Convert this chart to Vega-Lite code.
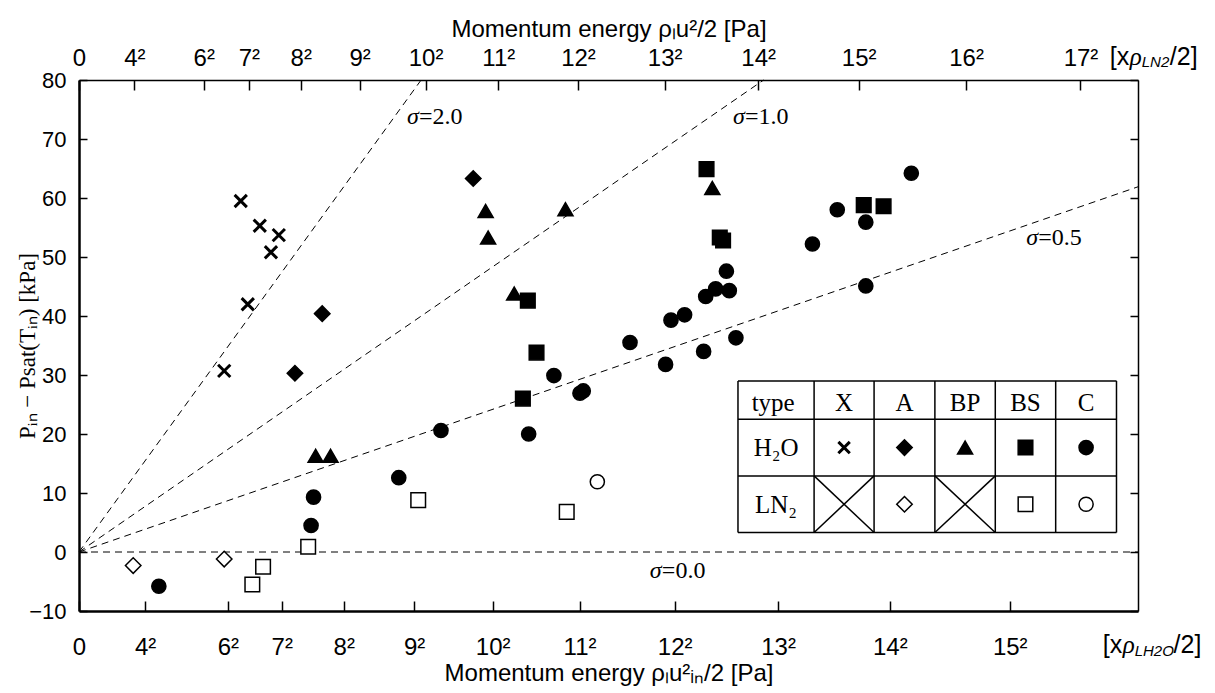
{
  "$schema": "https://vega.github.io/schema/vega-lite/v6.json",
  "width": 1059,
  "height": 531,
  "autosize": {"type": "none"},
  "padding": {"left": 79, "top": 80, "right": 77, "bottom": 82},
  "background": "white",
  "config": {
    "view": {"stroke": null},
    "axis": {
      "grid": false,
      "labelColor": "black",
      "titleColor": "black",
      "tickColor": "black",
      "domainColor": "black",
      "labelFont": "Liberation Sans",
      "titleFont": "Liberation Sans",
      "titleFontWeight": "normal",
      "labelFlush": false,
      "labelOverlap": false
    }
  },
  "datasets": {
    "lines": [
      {"s": "2.0", "x": 0, "y": 0}, {"s": "2.0", "x": 82.7, "y": 80},
      {"s": "1.0", "x": 0, "y": 0}, {"s": "1.0", "x": 165.5, "y": 80},
      {"s": "0.5", "x": 0, "y": 0}, {"s": "0.5", "x": 256, "y": 61.9},
      {"s": "0.0", "x": 0, "y": 0}, {"s": "0.0", "x": 256, "y": 0}
    ],
    "slabels": [
      {"v": "=2.0", "x": 79.3, "y": 73.7},
      {"v": "=1.0", "x": 158.1, "y": 73.7},
      {"v": "=0.5", "x": 229.0, "y": 53.2},
      {"v": "=0.0", "x": 138.0, "y": -3.3}
    ],
    "pts": [
      {"type": "X", "fluid": "H2O", "x": 39.1, "y": 59.5},
      {"type": "X", "fluid": "H2O", "x": 43.7, "y": 55.3},
      {"type": "X", "fluid": "H2O", "x": 48.3, "y": 53.7},
      {"type": "X", "fluid": "H2O", "x": 46.4, "y": 50.8},
      {"type": "X", "fluid": "H2O", "x": 40.8, "y": 42.0},
      {"type": "X", "fluid": "H2O", "x": 35.1, "y": 30.7},
      {"type": "A", "fluid": "H2O", "x": 58.8, "y": 40.4},
      {"type": "A", "fluid": "H2O", "x": 52.2, "y": 30.3},
      {"type": "A", "fluid": "H2O", "x": 95.3, "y": 63.3},
      {"type": "BP", "fluid": "H2O", "x": 57.2, "y": 16.3},
      {"type": "BP", "fluid": "H2O", "x": 60.8, "y": 16.3},
      {"type": "BP", "fluid": "H2O", "x": 98.3, "y": 57.8},
      {"type": "BP", "fluid": "H2O", "x": 98.9, "y": 53.3},
      {"type": "BP", "fluid": "H2O", "x": 105.2, "y": 43.8},
      {"type": "BP", "fluid": "H2O", "x": 117.6, "y": 58.1},
      {"type": "BP", "fluid": "H2O", "x": 153.1, "y": 61.7},
      {"type": "BS", "fluid": "H2O", "x": 151.7, "y": 64.9},
      {"type": "BS", "fluid": "H2O", "x": 154.9, "y": 53.3},
      {"type": "BS", "fluid": "H2O", "x": 155.7, "y": 52.8},
      {"type": "BS", "fluid": "H2O", "x": 108.5, "y": 42.6},
      {"type": "BS", "fluid": "H2O", "x": 110.6, "y": 33.8},
      {"type": "BS", "fluid": "H2O", "x": 107.3, "y": 26.0},
      {"type": "BS", "fluid": "H2O", "x": 189.7, "y": 58.8},
      {"type": "BS", "fluid": "H2O", "x": 194.5, "y": 58.6},
      {"type": "C", "fluid": "H2O", "x": 56.7, "y": 9.3},
      {"type": "C", "fluid": "H2O", "x": 56.1, "y": 4.5},
      {"type": "C", "fluid": "H2O", "x": 77.3, "y": 12.6},
      {"type": "C", "fluid": "H2O", "x": 19.3, "y": -5.8},
      {"type": "C", "fluid": "H2O", "x": 87.5, "y": 20.6},
      {"type": "C", "fluid": "H2O", "x": 108.7, "y": 20.0},
      {"type": "C", "fluid": "H2O", "x": 114.8, "y": 29.9},
      {"type": "C", "fluid": "H2O", "x": 121.1, "y": 26.9},
      {"type": "C", "fluid": "H2O", "x": 121.9, "y": 27.3},
      {"type": "C", "fluid": "H2O", "x": 133.2, "y": 35.5},
      {"type": "C", "fluid": "H2O", "x": 141.8, "y": 31.8},
      {"type": "C", "fluid": "H2O", "x": 143.1, "y": 39.3},
      {"type": "C", "fluid": "H2O", "x": 146.4, "y": 40.2},
      {"type": "C", "fluid": "H2O", "x": 151.0, "y": 34.0},
      {"type": "C", "fluid": "H2O", "x": 151.5, "y": 43.3},
      {"type": "C", "fluid": "H2O", "x": 153.9, "y": 44.6},
      {"type": "C", "fluid": "H2O", "x": 156.5, "y": 47.6},
      {"type": "C", "fluid": "H2O", "x": 157.2, "y": 44.3},
      {"type": "C", "fluid": "H2O", "x": 158.8, "y": 36.3},
      {"type": "C", "fluid": "H2O", "x": 177.3, "y": 52.2},
      {"type": "C", "fluid": "H2O", "x": 183.3, "y": 58.0},
      {"type": "C", "fluid": "H2O", "x": 190.2, "y": 55.9},
      {"type": "C", "fluid": "H2O", "x": 190.2, "y": 45.1},
      {"type": "C", "fluid": "H2O", "x": 201.2, "y": 64.2},
      {"type": "A", "fluid": "LN2", "x": 13.1, "y": -2.3},
      {"type": "A", "fluid": "LN2", "x": 35.1, "y": -1.2},
      {"type": "BS", "fluid": "LN2", "x": 41.9, "y": -5.5},
      {"type": "BS", "fluid": "LN2", "x": 44.5, "y": -2.5},
      {"type": "BS", "fluid": "LN2", "x": 55.4, "y": 0.9},
      {"type": "BS", "fluid": "LN2", "x": 82.0, "y": 8.8},
      {"type": "BS", "fluid": "LN2", "x": 117.9, "y": 6.8},
      {"type": "C", "fluid": "LN2", "x": 125.3, "y": 11.9}
    ],
    "keys": [
      {"type": "X", "fluid": "H2O", "x": 184.95, "y": 17.7},
      {"type": "A", "fluid": "H2O", "x": 199.55, "y": 17.7},
      {"type": "BP", "fluid": "H2O", "x": 214.2, "y": 17.7},
      {"type": "BS", "fluid": "H2O", "x": 228.8, "y": 17.7},
      {"type": "C", "fluid": "H2O", "x": 243.45, "y": 17.7},
      {"type": "A", "fluid": "LN2", "x": 199.55, "y": 8.1},
      {"type": "BS", "fluid": "LN2", "x": 228.8, "y": 8.1},
      {"type": "C", "fluid": "LN2", "x": 243.45, "y": 8.1}
    ],
    "grid": [
      {"x": 159.3, "y": 29.0, "x2": 250.8, "y2": 29.0},
      {"x": 159.3, "y": 22.5, "x2": 250.8, "y2": 22.5},
      {"x": 159.3, "y": 12.9, "x2": 250.8, "y2": 12.9},
      {"x": 159.3, "y": 3.3, "x2": 250.8, "y2": 3.3},
      {"x": 159.3, "y": 3.3, "x2": 159.3, "y2": 29.0},
      {"x": 177.7, "y": 3.3, "x2": 177.7, "y2": 29.0},
      {"x": 192.2, "y": 3.3, "x2": 192.2, "y2": 29.0},
      {"x": 206.9, "y": 3.3, "x2": 206.9, "y2": 29.0},
      {"x": 221.5, "y": 3.3, "x2": 221.5, "y2": 29.0},
      {"x": 236.1, "y": 3.3, "x2": 236.1, "y2": 29.0},
      {"x": 250.8, "y": 3.3, "x2": 250.8, "y2": 29.0},
      {"x": 177.7, "y": 12.9, "x2": 192.2, "y2": 3.3},
      {"x": 177.7, "y": 3.3, "x2": 192.2, "y2": 12.9},
      {"x": 206.9, "y": 12.9, "x2": 221.5, "y2": 3.3},
      {"x": 206.9, "y": 3.3, "x2": 221.5, "y2": 12.9}
    ],
    "ttext": [
      {"t": "type", "x": 167.8, "y": 25.2},
      {"t": "X", "x": 184.95, "y": 25.2},
      {"t": "A", "x": 199.55, "y": 25.2},
      {"t": "BP", "x": 214.2, "y": 25.2},
      {"t": "BS", "x": 228.8, "y": 25.2},
      {"t": "C", "x": 243.45, "y": 25.2},
      {"t": "H₂O", "x": 168.5, "y": 17.7},
      {"t": "LN₂", "x": 168.5, "y": 7.9}
    ],
    "brk": [
      {"t": "[x", "p": "n", "x": 249.2, "y": 83.9},
      {"t": "ρ", "p": "g", "x": 254.0, "y": 83.9},
      {"t": "LN2", "p": "s", "x": 256.9, "y": 83.0},
      {"t": "/2]", "p": "n", "x": 263.7, "y": 83.9},
      {"t": "[x", "p": "n", "x": 247.5, "y": -15.8},
      {"t": "ρ", "p": "g", "x": 252.3, "y": -15.8},
      {"t": "LH2O", "p": "s", "x": 255.2, "y": -16.7},
      {"t": "/2]", "p": "n", "x": 264.6, "y": -15.8}
    ]
  },
  "layer": [
    {
      "data": {"name": "lines"},
      "mark": {"type": "line", "color": "black", "strokeWidth": 1, "strokeDash": [7, 5]},
      "encoding": {
        "detail": {"field": "s", "type": "nominal"},
        "x": {
          "field": "x", "type": "quantitative",
          "scale": {"domain": [0, 256], "nice": false},
          "axis": {
            "orient": "bottom",
            "values": [0, 16, 36, 49, 64, 81, 100, 121, 144, 169, 196, 225],
            "labelExpr": "datum.value == 0 ? '0' : format(sqrt(datum.value), 'd') + '²'",
            "tickSize": -10, "tickWidth": 1.5, "domainWidth": 2.5,
            "labelFontSize": 24, "labelPadding": 34,
            "title": "Momentum energy  ρₗu²ᵢₙ/2 [Pa]",
            "titleFontSize": 24, "titlePadding": 2
          }
        },
        "y": {
          "field": "y", "type": "quantitative",
          "scale": {"domain": [-10, 80], "nice": false},
          "axis": {
            "orient": "left",
            "values": [-10, 0, 10, 20, 30, 40, 50, 60, 70, 80],
            "tickSize": -8, "tickWidth": 1.5, "domainWidth": 2.5,
            "labelFontSize": 22, "labelPadding": 21,
            "title": "Pᵢₙ − Psat(Tᵢₙ) [kPa]",
            "titleFont": "Liberation Serif",
            "titleFontSize": 23, "titlePadding": -11
          }
        }
      }
    },
    {
      "data": {"name": "grid"},
      "mark": {"type": "rule", "color": "black", "strokeWidth": 1.5},
      "encoding": {
        "x": {"field": "x", "type": "quantitative", "scale": {"domain": [0, 256], "nice": false}, "axis": null},
        "y": {"field": "y", "type": "quantitative", "scale": {"domain": [-10, 80], "nice": false}, "axis": null},
        "x2": {"field": "x2"},
        "y2": {"field": "y2"}
      }
    },
    {
      "data": {"name": "pts"},
      "transform": [{"filter": "datum.type == 'X'"}],
      "mark": {"type": "point", "shape": "M-1,-1L1,1M-1,1L1,-1", "filled": false, "stroke": "black", "strokeWidth": 3, "size": 150, "opacity": 1},
      "encoding": {
        "x": {"field": "x", "type": "quantitative", "scale": {"domain": [0, 256], "nice": false}, "axis": null},
        "y": {"field": "y", "type": "quantitative", "scale": {"domain": [-10, 80], "nice": false}, "axis": null}
      }
    },
    {
      "data": {"name": "pts"},
      "transform": [{"filter": "datum.type != 'X'"}],
      "mark": {"type": "point", "filled": true, "stroke": "black", "strokeWidth": 1.5, "opacity": 1},
      "encoding": {
        "x": {"field": "x", "type": "quantitative", "scale": {"domain": [0, 256], "nice": false}, "axis": null},
        "y": {"field": "y", "type": "quantitative", "scale": {"domain": [-10, 80], "nice": false}, "axis": null},
        "shape": {"field": "type", "type": "nominal", "scale": {"domain": ["A", "BP", "BS", "C"], "range": ["diamond", "triangle-up", "square", "circle"]}, "legend": null},
        "size": {"field": "type", "type": "nominal", "scale": {"domain": ["A", "BP", "BS", "C"], "range": [240, 200, 95, 118]}, "legend": null},
        "fill": {"field": "fluid", "type": "nominal", "scale": {"domain": ["H2O", "LN2"], "range": ["black", "white"]}, "legend": null}
      }
    },
    {
      "data": {"name": "keys"},
      "transform": [{"filter": "datum.type == 'X'"}],
      "mark": {"type": "point", "shape": "M-1,-1L1,1M-1,1L1,-1", "filled": false, "stroke": "black", "strokeWidth": 3, "size": 130, "opacity": 1},
      "encoding": {
        "x": {"field": "x", "type": "quantitative", "scale": {"domain": [0, 256], "nice": false}, "axis": null},
        "y": {"field": "y", "type": "quantitative", "scale": {"domain": [-10, 80], "nice": false}, "axis": null}
      }
    },
    {
      "data": {"name": "keys"},
      "transform": [{"filter": "datum.type != 'X'"}],
      "mark": {"type": "point", "filled": true, "stroke": "black", "strokeWidth": 1.5, "opacity": 1},
      "encoding": {
        "x": {"field": "x", "type": "quantitative", "scale": {"domain": [0, 256], "nice": false}, "axis": null},
        "y": {"field": "y", "type": "quantitative", "scale": {"domain": [-10, 80], "nice": false}, "axis": null},
        "shape": {"field": "type", "type": "nominal", "scale": {"domain": ["A", "BP", "BS", "C"], "range": ["diamond", "triangle-up", "square", "circle"]}, "legend": null},
        "size": {"field": "type", "type": "nominal", "scale": {"domain": ["A", "BP", "BS", "C"], "range": [240, 200, 95, 118]}, "legend": null},
        "fill": {"field": "fluid", "type": "nominal", "scale": {"domain": ["H2O", "LN2"], "range": ["black", "white"]}, "legend": null}
      }
    },
    {
      "data": {"name": "slabels"},
      "mark": {"type": "text", "text": "σ", "align": "left", "baseline": "middle", "font": "Liberation Serif", "fontStyle": "italic", "fontSize": 24, "color": "black"},
      "encoding": {
        "x": {"field": "x", "type": "quantitative", "scale": {"domain": [0, 256], "nice": false}, "axis": null},
        "y": {"field": "y", "type": "quantitative", "scale": {"domain": [-10, 80], "nice": false}, "axis": null}
      }
    },
    {
      "data": {"name": "slabels"},
      "mark": {"type": "text", "align": "left", "baseline": "middle", "dx": 12, "font": "Liberation Serif", "fontSize": 24, "color": "black"},
      "encoding": {
        "text": {"field": "v"},
        "x": {"field": "x", "type": "quantitative", "scale": {"domain": [0, 256], "nice": false}, "axis": null},
        "y": {"field": "y", "type": "quantitative", "scale": {"domain": [-10, 80], "nice": false}, "axis": null}
      }
    },
    {
      "data": {"name": "ttext"},
      "mark": {"type": "text", "align": "center", "baseline": "middle", "font": "Liberation Serif", "fontSize": 25, "color": "black"},
      "encoding": {
        "text": {"field": "t"},
        "x": {"field": "x", "type": "quantitative", "scale": {"domain": [0, 256], "nice": false}, "axis": null},
        "y": {"field": "y", "type": "quantitative", "scale": {"domain": [-10, 80], "nice": false}, "axis": null}
      }
    },
    {
      "data": {"name": "brk"},
      "transform": [{"filter": "datum.p == 'n'"}],
      "mark": {"type": "text", "align": "left", "baseline": "middle", "font": "Liberation Sans", "fontSize": 25, "color": "black"},
      "encoding": {
        "text": {"field": "t"},
        "x": {"field": "x", "type": "quantitative", "scale": {"domain": [0, 256], "nice": false}, "axis": null},
        "y": {"field": "y", "type": "quantitative", "scale": {"domain": [-10, 80], "nice": false}, "axis": null}
      }
    },
    {
      "data": {"name": "brk"},
      "transform": [{"filter": "datum.p == 'g'"}],
      "mark": {"type": "text", "align": "left", "baseline": "middle", "font": "Liberation Serif", "fontStyle": "italic", "fontSize": 25, "color": "black"},
      "encoding": {
        "text": {"field": "t"},
        "x": {"field": "x", "type": "quantitative", "scale": {"domain": [0, 256], "nice": false}, "axis": null},
        "y": {"field": "y", "type": "quantitative", "scale": {"domain": [-10, 80], "nice": false}, "axis": null}
      }
    },
    {
      "data": {"name": "brk"},
      "transform": [{"filter": "datum.p == 's'"}],
      "mark": {"type": "text", "align": "left", "baseline": "middle", "font": "Liberation Sans", "fontStyle": "italic", "fontSize": 15, "color": "black"},
      "encoding": {
        "text": {"field": "t"},
        "x": {"field": "x", "type": "quantitative", "scale": {"domain": [0, 256], "nice": false}, "axis": null},
        "y": {"field": "y", "type": "quantitative", "scale": {"domain": [-10, 80], "nice": false}, "axis": null}
      }
    },
    {
      "data": {"values": [{"t": 0, "v": 0}]},
      "mark": {"type": "point", "opacity": 0},
      "encoding": {
        "x": {
          "field": "t", "type": "quantitative",
          "scale": {"domain": [0, 305.6], "nice": false},
          "axis": {
            "orient": "top",
            "values": [0, 16, 36, 49, 64, 81, 100, 121, 144, 169, 196, 225, 256, 289],
            "labelExpr": "datum.value == 0 ? '0' : format(sqrt(datum.value), 'd') + '²'",
            "tickSize": -10, "tickWidth": 1.5, "domainWidth": 1.5,
            "labelFontSize": 24, "labelPadding": 20,
            "title": "Momentum energy  ρₗu²/2 [Pa]",
            "titleFontSize": 24, "titlePadding": 5
          }
        },
        "y": {
          "field": "v", "type": "quantitative",
          "scale": {"domain": [-10, 80], "nice": false},
          "axis": {
            "orient": "right",
            "values": [-10, 0, 10, 20, 30, 40, 50, 60, 70, 80],
            "labels": false, "tickSize": -8, "tickWidth": 1.5, "domainWidth": 1.5,
            "title": null
          }
        }
      }
    }
  ],
  "resolve": {
    "scale": {"x": "independent", "y": "independent"},
    "axis": {"x": "independent", "y": "independent"}
  }
}
